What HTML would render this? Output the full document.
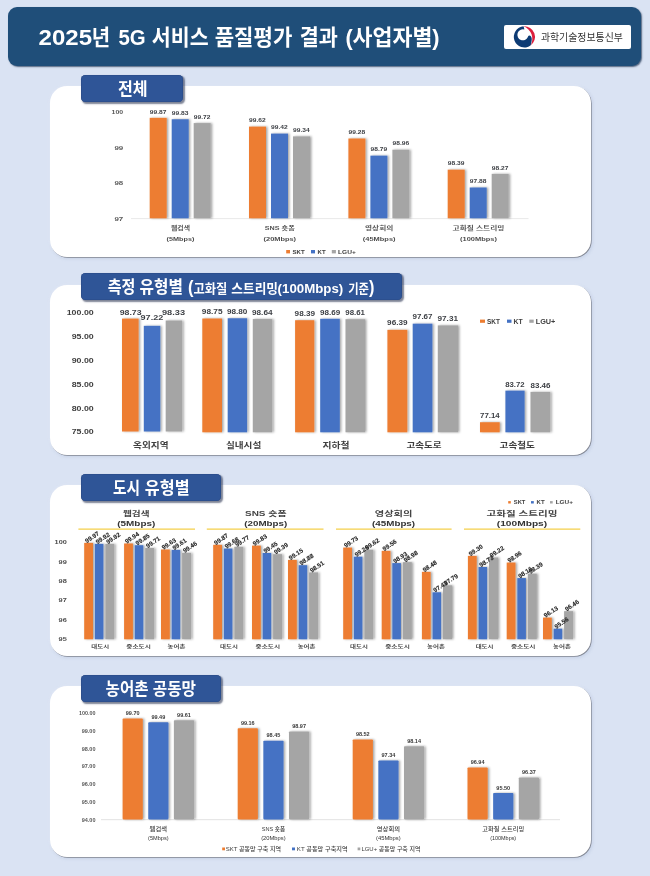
<!DOCTYPE html>
<html lang="ko"><head><meta charset="utf-8"><title>2025년 5G 서비스 품질평가 결과 (사업자별)</title>
<style>
html,body{margin:0;padding:0}
body{width:650px;height:876px;background:#dae3f3;position:relative;overflow:hidden;font-family:'Liberation Sans','Noto Sans CJK KR',sans-serif;}
.hdr{position:absolute;left:8.2px;top:7.2px;width:632.4px;height:59px;background:#1f4e79;border-radius:9px;box-shadow:1px 1px 1.5px rgba(40,60,90,.75)}
.logo{position:absolute;left:504px;top:24.8px;width:127.4px;height:24.1px;background:#fff;border-radius:2px}
.panel{position:absolute;left:49.6px;width:541.4px;background:#fff;border-radius:17px;box-shadow:0.7px 0.7px 0 rgba(120,124,135,.9),1.5px 1.5px 3px rgba(170,185,215,.4),0 0 3px rgba(235,240,250,.9)}
.tab{position:absolute;left:81.3px;height:26.5px;background:#2f5597;border-radius:4.5px;box-shadow:inset 0 0 0 0.6px #2a4a85,1.2px 1.2px 1.5px rgba(40,50,80,.6);color:#fff;font-weight:bold;white-space:nowrap}
svg{position:absolute;left:0;top:0}
svg text{font-family:'Liberation Sans','Noto Sans CJK KR',sans-serif}
</style></head><body>
<div class="hdr"></div>
<div class="logo"></div>

<div class="panel" style="top:86.4px;height:170.6px"></div>
<div class="panel" style="top:284.6px;height:170.4px"></div>
<div class="panel" style="top:485px;height:171.4px"></div>
<div class="panel" style="top:686px;height:171.4px"></div>

<div class="tab" style="top:75.3px;width:101.8px"></div>
<div class="tab" style="top:273.2px;width:320.4px"></div>
<div class="tab" style="top:474.4px;width:139.9px"></div>
<div class="tab" style="top:675.3px;width:139.9px"></div>

<svg width="650" height="876" viewBox="0 0 650 876">
<defs><filter id="bs" x="-5%" y="-5%" width="115%" height="110%"><feDropShadow dx="1.5" dy="0" stdDeviation="0.85" flood-color="#000" flood-opacity="0.36"/></filter></defs>
<line x1="131" x2="528.5" y1="218.60000000000002" y2="218.60000000000002" stroke="#e2e2e2" stroke-width="0.8"/>
<g filter="url(#bs)">
<rect x="149.70" y="117.85" width="17.00" height="100.45" fill="#ed7d31"/>
<rect x="171.70" y="119.25" width="17.00" height="99.05" fill="#4472c4"/>
<rect x="193.70" y="123.10" width="17.00" height="95.20" fill="#a5a5a5"/>
<rect x="249.00" y="126.60" width="17.00" height="91.70" fill="#ed7d31"/>
<rect x="271.00" y="133.60" width="17.00" height="84.70" fill="#4472c4"/>
<rect x="293.00" y="136.40" width="17.00" height="81.90" fill="#a5a5a5"/>
<rect x="348.40" y="138.50" width="17.00" height="79.80" fill="#ed7d31"/>
<rect x="370.40" y="155.65" width="17.00" height="62.65" fill="#4472c4"/>
<rect x="392.40" y="149.70" width="17.00" height="68.60" fill="#a5a5a5"/>
<rect x="447.70" y="169.65" width="17.00" height="48.65" fill="#ed7d31"/>
<rect x="469.70" y="187.50" width="17.00" height="30.80" fill="#4472c4"/>
<rect x="491.70" y="173.85" width="17.00" height="44.45" fill="#a5a5a5"/>
</g>
<text x="149.80" y="113.61" font-size="6.0" font-weight="bold" fill="#3c3f44" textLength="16.60" lengthAdjust="spacingAndGlyphs">99.87</text>
<text x="171.80" y="115.01" font-size="6.0" font-weight="bold" fill="#3c3f44" textLength="16.60" lengthAdjust="spacingAndGlyphs">99.83</text>
<text x="193.80" y="118.86" font-size="6.0" font-weight="bold" fill="#3c3f44" textLength="16.60" lengthAdjust="spacingAndGlyphs">99.72</text>
<text x="249.10" y="122.36" font-size="6.0" font-weight="bold" fill="#3c3f44" textLength="16.60" lengthAdjust="spacingAndGlyphs">99.62</text>
<text x="271.10" y="129.36" font-size="6.0" font-weight="bold" fill="#3c3f44" textLength="16.60" lengthAdjust="spacingAndGlyphs">99.42</text>
<text x="293.10" y="132.16" font-size="6.0" font-weight="bold" fill="#3c3f44" textLength="16.60" lengthAdjust="spacingAndGlyphs">99.34</text>
<text x="348.50" y="134.26" font-size="6.0" font-weight="bold" fill="#3c3f44" textLength="16.60" lengthAdjust="spacingAndGlyphs">99.28</text>
<text x="370.50" y="151.41" font-size="6.0" font-weight="bold" fill="#3c3f44" textLength="16.60" lengthAdjust="spacingAndGlyphs">98.79</text>
<text x="392.50" y="145.46" font-size="6.0" font-weight="bold" fill="#3c3f44" textLength="16.60" lengthAdjust="spacingAndGlyphs">98.96</text>
<text x="447.80" y="165.41" font-size="6.0" font-weight="bold" fill="#3c3f44" textLength="16.60" lengthAdjust="spacingAndGlyphs">98.39</text>
<text x="469.80" y="183.26" font-size="6.0" font-weight="bold" fill="#3c3f44" textLength="16.60" lengthAdjust="spacingAndGlyphs">97.88</text>
<text x="491.80" y="169.61" font-size="6.0" font-weight="bold" fill="#3c3f44" textLength="16.60" lengthAdjust="spacingAndGlyphs">98.27</text>
<text x="111.60" y="114.13" font-size="6.2" font-weight="bold" fill="#5a5a5a" textLength="11.60" lengthAdjust="spacingAndGlyphs">100</text>
<text x="114.40" y="149.68" font-size="6.2" font-weight="bold" fill="#5a5a5a" textLength="8.80" lengthAdjust="spacingAndGlyphs">99</text>
<text x="114.40" y="185.23" font-size="6.2" font-weight="bold" fill="#5a5a5a" textLength="8.80" lengthAdjust="spacingAndGlyphs">98</text>
<text x="114.40" y="220.78" font-size="6.2" font-weight="bold" fill="#5a5a5a" textLength="8.80" lengthAdjust="spacingAndGlyphs">97</text>
<text x="171.00" y="229.83" font-size="5.5" font-weight="bold" fill="#555" textLength="19.00" lengthAdjust="spacingAndGlyphs">웹검색</text>
<text x="166.60" y="240.52" font-size="5.9" font-weight="bold" fill="#4a4a4a" textLength="27.80" lengthAdjust="spacingAndGlyphs">(5Mbps)</text>
<text x="264.80" y="229.83" font-size="5.5" font-weight="bold" fill="#555" textLength="30.00" lengthAdjust="spacingAndGlyphs">SNS 숏폼</text>
<text x="263.55" y="240.52" font-size="5.9" font-weight="bold" fill="#4a4a4a" textLength="32.50" lengthAdjust="spacingAndGlyphs">(20Mbps)</text>
<text x="365.05" y="229.83" font-size="5.5" font-weight="bold" fill="#555" textLength="28.30" lengthAdjust="spacingAndGlyphs">영상회의</text>
<text x="362.85" y="240.52" font-size="5.9" font-weight="bold" fill="#4a4a4a" textLength="32.70" lengthAdjust="spacingAndGlyphs">(45Mbps)</text>
<text x="452.60" y="229.83" font-size="5.5" font-weight="bold" fill="#555" textLength="51.80" lengthAdjust="spacingAndGlyphs">고화질 스트리밍</text>
<text x="460.05" y="240.52" font-size="5.9" font-weight="bold" fill="#4a4a4a" textLength="36.90" lengthAdjust="spacingAndGlyphs">(100Mbps)</text>
<rect x="286.20" y="250.00" width="3.80" height="3.40" fill="#ed7d31"/>
<text x="292.50" y="253.93" font-size="6.2" font-weight="bold" fill="#404040" textLength="12.20" lengthAdjust="spacingAndGlyphs">SKT</text>
<rect x="311.00" y="250.00" width="4.00" height="3.40" fill="#4472c4"/>
<text x="317.60" y="253.93" font-size="6.2" font-weight="bold" fill="#404040" textLength="8.10" lengthAdjust="spacingAndGlyphs">KT</text>
<rect x="331.80" y="250.00" width="4.10" height="3.40" fill="#a5a5a5"/>
<text x="338.00" y="253.93" font-size="6.2" font-weight="bold" fill="#404040" textLength="17.80" lengthAdjust="spacingAndGlyphs">LGU+</text>
<g filter="url(#bs)">
<rect x="122.00" y="318.60" width="16.60" height="112.90" fill="#ed7d31"/>
<rect x="143.80" y="325.84" width="16.50" height="105.66" fill="#4472c4"/>
<rect x="165.70" y="320.52" width="16.50" height="110.98" fill="#a5a5a5"/>
<rect x="202.30" y="318.50" width="19.70" height="113.80" fill="#ed7d31"/>
<rect x="227.70" y="318.26" width="19.40" height="114.04" fill="#4472c4"/>
<rect x="252.80" y="319.03" width="19.50" height="113.27" fill="#a5a5a5"/>
<rect x="295.10" y="320.23" width="19.20" height="112.07" fill="#ed7d31"/>
<rect x="320.20" y="318.79" width="19.60" height="113.51" fill="#4472c4"/>
<rect x="345.50" y="319.17" width="19.50" height="113.13" fill="#a5a5a5"/>
<rect x="387.40" y="329.83" width="19.90" height="102.47" fill="#ed7d31"/>
<rect x="412.70" y="323.68" width="19.70" height="108.62" fill="#4472c4"/>
<rect x="437.80" y="325.41" width="20.20" height="106.89" fill="#a5a5a5"/>
<rect x="480.00" y="422.23" width="19.70" height="10.07" fill="#ed7d31"/>
<rect x="505.40" y="390.64" width="19.20" height="41.66" fill="#4472c4"/>
<rect x="530.50" y="391.89" width="19.80" height="40.41" fill="#a5a5a5"/>
</g>
<text x="119.70" y="314.83" font-size="7.3" font-weight="bold" fill="#3c3f44" textLength="21.90" lengthAdjust="spacingAndGlyphs">98.73</text>
<text x="140.60" y="320.43" font-size="7.3" font-weight="bold" fill="#3c3f44" textLength="22.60" lengthAdjust="spacingAndGlyphs">97.22</text>
<text x="162.00" y="314.83" font-size="7.3" font-weight="bold" fill="#3c3f44" textLength="23.00" lengthAdjust="spacingAndGlyphs">98.33</text>
<text x="201.80" y="314.03" font-size="7.3" font-weight="bold" fill="#3c3f44" textLength="20.70" lengthAdjust="spacingAndGlyphs">98.75</text>
<text x="227.00" y="314.03" font-size="7.3" font-weight="bold" fill="#3c3f44" textLength="20.40" lengthAdjust="spacingAndGlyphs">98.80</text>
<text x="252.00" y="314.73" font-size="7.3" font-weight="bold" fill="#3c3f44" textLength="20.50" lengthAdjust="spacingAndGlyphs">98.64</text>
<text x="294.60" y="315.73" font-size="7.3" font-weight="bold" fill="#3c3f44" textLength="20.40" lengthAdjust="spacingAndGlyphs">98.39</text>
<text x="320.00" y="314.53" font-size="7.3" font-weight="bold" fill="#3c3f44" textLength="20.20" lengthAdjust="spacingAndGlyphs">98.69</text>
<text x="345.30" y="315.23" font-size="7.3" font-weight="bold" fill="#3c3f44" textLength="19.70" lengthAdjust="spacingAndGlyphs">98.61</text>
<text x="387.10" y="325.03" font-size="7.3" font-weight="bold" fill="#3c3f44" textLength="20.40" lengthAdjust="spacingAndGlyphs">96.39</text>
<text x="412.50" y="319.43" font-size="7.3" font-weight="bold" fill="#3c3f44" textLength="20.00" lengthAdjust="spacingAndGlyphs">97.67</text>
<text x="437.50" y="320.93" font-size="7.3" font-weight="bold" fill="#3c3f44" textLength="20.50" lengthAdjust="spacingAndGlyphs">97.31</text>
<text x="480.00" y="418.33" font-size="7.3" font-weight="bold" fill="#3c3f44" textLength="19.70" lengthAdjust="spacingAndGlyphs">77.14</text>
<text x="505.20" y="386.63" font-size="7.3" font-weight="bold" fill="#3c3f44" textLength="19.40" lengthAdjust="spacingAndGlyphs">83.72</text>
<text x="530.50" y="388.43" font-size="7.3" font-weight="bold" fill="#3c3f44" textLength="20.00" lengthAdjust="spacingAndGlyphs">83.46</text>
<text x="66.70" y="314.75" font-size="6.8" font-weight="bold" fill="#404040" textLength="27.10" lengthAdjust="spacingAndGlyphs">100.00</text>
<text x="71.70" y="338.75" font-size="6.8" font-weight="bold" fill="#404040" textLength="22.10" lengthAdjust="spacingAndGlyphs">95.00</text>
<text x="71.70" y="362.75" font-size="6.8" font-weight="bold" fill="#404040" textLength="22.10" lengthAdjust="spacingAndGlyphs">90.00</text>
<text x="71.70" y="386.75" font-size="6.8" font-weight="bold" fill="#404040" textLength="22.10" lengthAdjust="spacingAndGlyphs">85.00</text>
<text x="71.70" y="410.75" font-size="6.8" font-weight="bold" fill="#404040" textLength="22.10" lengthAdjust="spacingAndGlyphs">80.00</text>
<text x="71.70" y="434.15" font-size="6.8" font-weight="bold" fill="#404040" textLength="22.10" lengthAdjust="spacingAndGlyphs">75.00</text>
<text x="133.10" y="448.47" font-size="8.2" font-weight="bold" fill="#404040" textLength="35.50" lengthAdjust="spacingAndGlyphs">옥외지역</text>
<text x="225.90" y="448.47" font-size="8.2" font-weight="bold" fill="#404040" textLength="35.40" lengthAdjust="spacingAndGlyphs">실내시설</text>
<text x="322.50" y="448.47" font-size="8.2" font-weight="bold" fill="#404040" textLength="27.10" lengthAdjust="spacingAndGlyphs">지하철</text>
<text x="406.40" y="448.47" font-size="8.2" font-weight="bold" fill="#404040" textLength="35.20" lengthAdjust="spacingAndGlyphs">고속도로</text>
<text x="499.60" y="448.47" font-size="8.2" font-weight="bold" fill="#404040" textLength="35.20" lengthAdjust="spacingAndGlyphs">고속철도</text>
<rect x="480.00" y="319.60" width="5.00" height="3.20" fill="#ed7d31"/>
<text x="487.00" y="323.50" font-size="6.4" font-weight="bold" fill="#404040" textLength="13.00" lengthAdjust="spacingAndGlyphs">SKT</text>
<rect x="507.00" y="319.60" width="4.50" height="3.20" fill="#4472c4"/>
<text x="513.50" y="323.50" font-size="6.4" font-weight="bold" fill="#404040" textLength="9.10" lengthAdjust="spacingAndGlyphs">KT</text>
<rect x="529.30" y="319.60" width="4.40" height="3.20" fill="#a5a5a5"/>
<text x="535.70" y="323.50" font-size="6.4" font-weight="bold" fill="#404040" textLength="19.70" lengthAdjust="spacingAndGlyphs">LGU+</text>
<line x1="78.4" x2="195" y1="529.2" y2="529.2" stroke="#f4cf4a" stroke-width="1.2"/>
<line x1="206.8" x2="323.5" y1="529.2" y2="529.2" stroke="#f4cf4a" stroke-width="1.2"/>
<line x1="336" x2="451.6" y1="529.2" y2="529.2" stroke="#f4cf4a" stroke-width="1.2"/>
<line x1="464" x2="580.3" y1="529.2" y2="529.2" stroke="#f4cf4a" stroke-width="1.2"/>
<g filter="url(#bs)">
<rect x="84.20" y="542.88" width="8.80" height="96.42" fill="#ed7d31"/>
<rect x="94.80" y="543.86" width="8.60" height="95.44" fill="#4472c4"/>
<rect x="105.30" y="543.86" width="9.00" height="95.44" fill="#a5a5a5"/>
<rect x="124.10" y="543.47" width="8.80" height="95.83" fill="#ed7d31"/>
<rect x="134.70" y="545.22" width="8.60" height="94.08" fill="#4472c4"/>
<rect x="145.20" y="547.94" width="9.00" height="91.36" fill="#a5a5a5"/>
<rect x="161.00" y="549.50" width="8.80" height="89.80" fill="#ed7d31"/>
<rect x="171.60" y="549.89" width="8.60" height="89.41" fill="#4472c4"/>
<rect x="182.10" y="552.80" width="9.00" height="86.50" fill="#a5a5a5"/>
<rect x="213.20" y="544.83" width="8.80" height="94.47" fill="#ed7d31"/>
<rect x="223.80" y="548.52" width="8.60" height="90.78" fill="#4472c4"/>
<rect x="234.30" y="546.77" width="9.00" height="92.53" fill="#a5a5a5"/>
<rect x="252.00" y="545.61" width="8.80" height="93.69" fill="#ed7d31"/>
<rect x="262.60" y="553.00" width="8.60" height="86.30" fill="#4472c4"/>
<rect x="273.10" y="554.16" width="9.00" height="85.14" fill="#a5a5a5"/>
<rect x="288.00" y="559.93" width="8.80" height="79.37" fill="#ed7d31"/>
<rect x="298.60" y="565.18" width="8.60" height="74.12" fill="#4472c4"/>
<rect x="309.10" y="572.38" width="9.00" height="66.92" fill="#a5a5a5"/>
<rect x="343.20" y="547.55" width="8.80" height="91.75" fill="#ed7d31"/>
<rect x="353.80" y="556.69" width="8.60" height="82.61" fill="#4472c4"/>
<rect x="364.30" y="549.69" width="9.00" height="89.61" fill="#a5a5a5"/>
<rect x="381.70" y="550.86" width="8.80" height="88.44" fill="#ed7d31"/>
<rect x="392.30" y="563.11" width="8.60" height="76.19" fill="#4472c4"/>
<rect x="402.80" y="562.14" width="9.00" height="77.16" fill="#a5a5a5"/>
<rect x="421.90" y="571.86" width="8.80" height="67.44" fill="#ed7d31"/>
<rect x="432.50" y="592.29" width="8.60" height="47.01" fill="#4472c4"/>
<rect x="443.00" y="585.28" width="9.00" height="54.02" fill="#a5a5a5"/>
<rect x="467.90" y="555.91" width="8.80" height="83.38" fill="#ed7d31"/>
<rect x="478.50" y="567.00" width="8.60" height="72.30" fill="#4472c4"/>
<rect x="489.00" y="557.47" width="9.00" height="81.83" fill="#a5a5a5"/>
<rect x="506.70" y="562.53" width="8.80" height="76.77" fill="#ed7d31"/>
<rect x="517.30" y="578.09" width="8.60" height="61.21" fill="#4472c4"/>
<rect x="527.80" y="573.61" width="9.00" height="65.69" fill="#a5a5a5"/>
<rect x="543.00" y="617.57" width="8.80" height="21.73" fill="#ed7d31"/>
<rect x="553.60" y="628.66" width="8.60" height="10.64" fill="#4472c4"/>
<rect x="564.10" y="611.15" width="9.00" height="28.15" fill="#a5a5a5"/>
</g>
<text transform="translate(86.80,543.18) rotate(-33.5)" font-size="6.2" font-weight="bold" fill="#262626" stroke="#262626" stroke-width="0.12">99.97</text>
<text transform="translate(97.40,544.16) rotate(-33.5)" font-size="6.2" font-weight="bold" fill="#262626" stroke="#262626" stroke-width="0.12">99.92</text>
<text transform="translate(107.90,544.16) rotate(-33.5)" font-size="6.2" font-weight="bold" fill="#262626" stroke="#262626" stroke-width="0.12">99.92</text>
<text transform="translate(126.70,543.77) rotate(-33.5)" font-size="6.2" font-weight="bold" fill="#262626" stroke="#262626" stroke-width="0.12">99.94</text>
<text transform="translate(137.30,545.52) rotate(-33.5)" font-size="6.2" font-weight="bold" fill="#262626" stroke="#262626" stroke-width="0.12">99.85</text>
<text transform="translate(147.80,548.24) rotate(-33.5)" font-size="6.2" font-weight="bold" fill="#262626" stroke="#262626" stroke-width="0.12">99.71</text>
<text transform="translate(163.60,549.80) rotate(-33.5)" font-size="6.2" font-weight="bold" fill="#262626" stroke="#262626" stroke-width="0.12">99.63</text>
<text transform="translate(174.20,550.19) rotate(-33.5)" font-size="6.2" font-weight="bold" fill="#262626" stroke="#262626" stroke-width="0.12">99.61</text>
<text transform="translate(184.70,553.10) rotate(-33.5)" font-size="6.2" font-weight="bold" fill="#262626" stroke="#262626" stroke-width="0.12">99.46</text>
<text transform="translate(215.80,545.13) rotate(-33.5)" font-size="6.2" font-weight="bold" fill="#262626" stroke="#262626" stroke-width="0.12">99.87</text>
<text transform="translate(226.40,548.82) rotate(-33.5)" font-size="6.2" font-weight="bold" fill="#262626" stroke="#262626" stroke-width="0.12">99.68</text>
<text transform="translate(236.90,547.07) rotate(-33.5)" font-size="6.2" font-weight="bold" fill="#262626" stroke="#262626" stroke-width="0.12">99.77</text>
<text transform="translate(254.60,545.91) rotate(-33.5)" font-size="6.2" font-weight="bold" fill="#262626" stroke="#262626" stroke-width="0.12">99.83</text>
<text transform="translate(265.20,553.30) rotate(-33.5)" font-size="6.2" font-weight="bold" fill="#262626" stroke="#262626" stroke-width="0.12">99.45</text>
<text transform="translate(275.70,554.46) rotate(-33.5)" font-size="6.2" font-weight="bold" fill="#262626" stroke="#262626" stroke-width="0.12">99.39</text>
<text transform="translate(290.60,560.23) rotate(-33.5)" font-size="6.2" font-weight="bold" fill="#262626" stroke="#262626" stroke-width="0.12">99.15</text>
<text transform="translate(301.20,565.48) rotate(-33.5)" font-size="6.2" font-weight="bold" fill="#262626" stroke="#262626" stroke-width="0.12">98.88</text>
<text transform="translate(311.70,572.68) rotate(-33.5)" font-size="6.2" font-weight="bold" fill="#262626" stroke="#262626" stroke-width="0.12">98.51</text>
<text transform="translate(345.80,547.85) rotate(-33.5)" font-size="6.2" font-weight="bold" fill="#262626" stroke="#262626" stroke-width="0.12">99.73</text>
<text transform="translate(356.40,556.99) rotate(-33.5)" font-size="6.2" font-weight="bold" fill="#262626" stroke="#262626" stroke-width="0.12">99.26</text>
<text transform="translate(366.90,549.99) rotate(-33.5)" font-size="6.2" font-weight="bold" fill="#262626" stroke="#262626" stroke-width="0.12">99.62</text>
<text transform="translate(384.30,551.16) rotate(-33.5)" font-size="6.2" font-weight="bold" fill="#262626" stroke="#262626" stroke-width="0.12">99.56</text>
<text transform="translate(394.90,563.41) rotate(-33.5)" font-size="6.2" font-weight="bold" fill="#262626" stroke="#262626" stroke-width="0.12">98.93</text>
<text transform="translate(405.40,562.44) rotate(-33.5)" font-size="6.2" font-weight="bold" fill="#262626" stroke="#262626" stroke-width="0.12">98.98</text>
<text transform="translate(424.50,572.16) rotate(-33.5)" font-size="6.2" font-weight="bold" fill="#262626" stroke="#262626" stroke-width="0.12">98.48</text>
<text transform="translate(435.10,592.59) rotate(-33.5)" font-size="6.2" font-weight="bold" fill="#262626" stroke="#262626" stroke-width="0.12">97.43</text>
<text transform="translate(445.60,585.58) rotate(-33.5)" font-size="6.2" font-weight="bold" fill="#262626" stroke="#262626" stroke-width="0.12">97.79</text>
<text transform="translate(470.50,556.21) rotate(-33.5)" font-size="6.2" font-weight="bold" fill="#262626" stroke="#262626" stroke-width="0.12">99.30</text>
<text transform="translate(481.10,567.30) rotate(-33.5)" font-size="6.2" font-weight="bold" fill="#262626" stroke="#262626" stroke-width="0.12">98.73</text>
<text transform="translate(491.60,557.77) rotate(-33.5)" font-size="6.2" font-weight="bold" fill="#262626" stroke="#262626" stroke-width="0.12">99.22</text>
<text transform="translate(509.30,562.83) rotate(-33.5)" font-size="6.2" font-weight="bold" fill="#262626" stroke="#262626" stroke-width="0.12">98.96</text>
<text transform="translate(519.90,578.39) rotate(-33.5)" font-size="6.2" font-weight="bold" fill="#262626" stroke="#262626" stroke-width="0.12">98.16</text>
<text transform="translate(530.40,573.91) rotate(-33.5)" font-size="6.2" font-weight="bold" fill="#262626" stroke="#262626" stroke-width="0.12">98.39</text>
<text transform="translate(545.60,617.87) rotate(-33.5)" font-size="6.2" font-weight="bold" fill="#262626" stroke="#262626" stroke-width="0.12">96.13</text>
<text transform="translate(556.20,628.96) rotate(-33.5)" font-size="6.2" font-weight="bold" fill="#262626" stroke="#262626" stroke-width="0.12">95.56</text>
<text transform="translate(566.70,611.45) rotate(-33.5)" font-size="6.2" font-weight="bold" fill="#262626" stroke="#262626" stroke-width="0.12">96.46</text>
<text x="54.60" y="544.35" font-size="5.7" font-weight="bold" fill="#4a4a4a" textLength="12.20" lengthAdjust="spacingAndGlyphs">100</text>
<text x="58.60" y="563.67" font-size="5.7" font-weight="bold" fill="#4a4a4a" textLength="8.20" lengthAdjust="spacingAndGlyphs">99</text>
<text x="58.60" y="582.99" font-size="5.7" font-weight="bold" fill="#4a4a4a" textLength="8.20" lengthAdjust="spacingAndGlyphs">98</text>
<text x="58.60" y="602.31" font-size="5.7" font-weight="bold" fill="#4a4a4a" textLength="8.20" lengthAdjust="spacingAndGlyphs">97</text>
<text x="58.60" y="621.63" font-size="5.7" font-weight="bold" fill="#4a4a4a" textLength="8.20" lengthAdjust="spacingAndGlyphs">96</text>
<text x="58.60" y="640.95" font-size="5.7" font-weight="bold" fill="#4a4a4a" textLength="8.20" lengthAdjust="spacingAndGlyphs">95</text>
<text x="123.00" y="516.08" font-size="6.8" font-weight="bold" fill="#444" textLength="26.60" lengthAdjust="spacingAndGlyphs">웹검색</text>
<text x="117.30" y="525.54" font-size="7.6" font-weight="bold" fill="#333" textLength="38.00" lengthAdjust="spacingAndGlyphs">(5Mbps)</text>
<text x="245.05" y="516.08" font-size="6.8" font-weight="bold" fill="#444" textLength="41.50" lengthAdjust="spacingAndGlyphs">SNS 숏폼</text>
<text x="244.30" y="525.54" font-size="7.6" font-weight="bold" fill="#333" textLength="43.00" lengthAdjust="spacingAndGlyphs">(20Mbps)</text>
<text x="374.75" y="516.08" font-size="6.8" font-weight="bold" fill="#444" textLength="37.70" lengthAdjust="spacingAndGlyphs">영상회의</text>
<text x="372.10" y="525.54" font-size="7.6" font-weight="bold" fill="#333" textLength="43.00" lengthAdjust="spacingAndGlyphs">(45Mbps)</text>
<text x="486.50" y="516.08" font-size="6.8" font-weight="bold" fill="#444" textLength="71.00" lengthAdjust="spacingAndGlyphs">고화질 스트리밍</text>
<text x="496.80" y="525.54" font-size="7.6" font-weight="bold" fill="#333" textLength="50.40" lengthAdjust="spacingAndGlyphs">(100Mbps)</text>
<text x="91.30" y="647.72" font-size="4.9" font-weight="bold" fill="#4a4a4a" textLength="17.80" lengthAdjust="spacingAndGlyphs">대도시</text>
<text x="126.30" y="647.72" font-size="4.9" font-weight="bold" fill="#4a4a4a" textLength="24.60" lengthAdjust="spacingAndGlyphs">중소도시</text>
<text x="167.60" y="647.72" font-size="4.9" font-weight="bold" fill="#4a4a4a" textLength="17.80" lengthAdjust="spacingAndGlyphs">농어촌</text>
<text x="220.10" y="647.72" font-size="4.9" font-weight="bold" fill="#4a4a4a" textLength="17.80" lengthAdjust="spacingAndGlyphs">대도시</text>
<text x="255.50" y="647.72" font-size="4.9" font-weight="bold" fill="#4a4a4a" textLength="24.60" lengthAdjust="spacingAndGlyphs">중소도시</text>
<text x="297.70" y="647.72" font-size="4.9" font-weight="bold" fill="#4a4a4a" textLength="17.80" lengthAdjust="spacingAndGlyphs">농어촌</text>
<text x="350.10" y="647.72" font-size="4.9" font-weight="bold" fill="#4a4a4a" textLength="17.80" lengthAdjust="spacingAndGlyphs">대도시</text>
<text x="385.20" y="647.72" font-size="4.9" font-weight="bold" fill="#4a4a4a" textLength="24.60" lengthAdjust="spacingAndGlyphs">중소도시</text>
<text x="427.10" y="647.72" font-size="4.9" font-weight="bold" fill="#4a4a4a" textLength="17.80" lengthAdjust="spacingAndGlyphs">농어촌</text>
<text x="475.70" y="647.72" font-size="4.9" font-weight="bold" fill="#4a4a4a" textLength="17.80" lengthAdjust="spacingAndGlyphs">대도시</text>
<text x="510.90" y="647.72" font-size="4.9" font-weight="bold" fill="#4a4a4a" textLength="24.60" lengthAdjust="spacingAndGlyphs">중소도시</text>
<text x="553.10" y="647.72" font-size="4.9" font-weight="bold" fill="#4a4a4a" textLength="17.80" lengthAdjust="spacingAndGlyphs">농어촌</text>
<rect x="508.20" y="501.10" width="2.60" height="2.40" fill="#ed7d31"/>
<text x="513.80" y="504.24" font-size="5.4" font-weight="bold" fill="#404040" textLength="11.60" lengthAdjust="spacingAndGlyphs">SKT</text>
<rect x="531.00" y="501.10" width="2.80" height="2.40" fill="#4472c4"/>
<text x="536.50" y="504.24" font-size="5.4" font-weight="bold" fill="#404040" textLength="8.10" lengthAdjust="spacingAndGlyphs">KT</text>
<rect x="550.00" y="501.10" width="2.70" height="2.40" fill="#a5a5a5"/>
<text x="555.70" y="504.24" font-size="5.4" font-weight="bold" fill="#404040" textLength="17.30" lengthAdjust="spacingAndGlyphs">LGU+</text>
<line x1="101" x2="560" y1="819.6999999999999" y2="819.6999999999999" stroke="#d9d9d9" stroke-width="0.8"/>
<g filter="url(#bs)">
<rect x="122.60" y="718.61" width="20.2" height="100.79" fill="#ed7d31" rx="0.8"/>
<rect x="148.25" y="722.33" width="20.2" height="97.07" fill="#4472c4" rx="0.8"/>
<rect x="173.90" y="720.20" width="20.2" height="99.20" fill="#a5a5a5" rx="0.8"/>
<rect x="237.70" y="728.17" width="20.2" height="91.23" fill="#ed7d31" rx="0.8"/>
<rect x="263.35" y="740.73" width="20.2" height="78.67" fill="#4472c4" rx="0.8"/>
<rect x="289.00" y="731.53" width="20.2" height="87.87" fill="#a5a5a5" rx="0.8"/>
<rect x="352.70" y="739.50" width="20.2" height="79.90" fill="#ed7d31" rx="0.8"/>
<rect x="378.35" y="760.38" width="20.2" height="59.02" fill="#4472c4" rx="0.8"/>
<rect x="404.00" y="746.22" width="20.2" height="73.18" fill="#a5a5a5" rx="0.8"/>
<rect x="467.50" y="767.46" width="20.2" height="51.94" fill="#ed7d31" rx="0.8"/>
<rect x="493.15" y="792.95" width="20.2" height="26.45" fill="#4472c4" rx="0.8"/>
<rect x="518.80" y="777.55" width="20.2" height="41.85" fill="#a5a5a5" rx="0.8"/>
</g>
<text x="125.80" y="715.27" font-size="6.0" font-weight="bold" fill="#383838" textLength="13.80" lengthAdjust="spacingAndGlyphs">99.70</text>
<text x="151.45" y="718.99" font-size="6.0" font-weight="bold" fill="#383838" textLength="13.80" lengthAdjust="spacingAndGlyphs">99.49</text>
<text x="177.10" y="716.86" font-size="6.0" font-weight="bold" fill="#383838" textLength="13.80" lengthAdjust="spacingAndGlyphs">99.61</text>
<text x="240.90" y="724.83" font-size="6.0" font-weight="bold" fill="#383838" textLength="13.80" lengthAdjust="spacingAndGlyphs">99.16</text>
<text x="266.55" y="737.39" font-size="6.0" font-weight="bold" fill="#383838" textLength="13.80" lengthAdjust="spacingAndGlyphs">98.45</text>
<text x="292.20" y="728.19" font-size="6.0" font-weight="bold" fill="#383838" textLength="13.80" lengthAdjust="spacingAndGlyphs">98.97</text>
<text x="355.90" y="736.16" font-size="6.0" font-weight="bold" fill="#383838" textLength="13.80" lengthAdjust="spacingAndGlyphs">98.52</text>
<text x="381.55" y="757.04" font-size="6.0" font-weight="bold" fill="#383838" textLength="13.80" lengthAdjust="spacingAndGlyphs">97.34</text>
<text x="407.20" y="742.88" font-size="6.0" font-weight="bold" fill="#383838" textLength="13.80" lengthAdjust="spacingAndGlyphs">98.14</text>
<text x="470.70" y="764.12" font-size="6.0" font-weight="bold" fill="#383838" textLength="13.80" lengthAdjust="spacingAndGlyphs">96.94</text>
<text x="496.35" y="789.61" font-size="6.0" font-weight="bold" fill="#383838" textLength="13.80" lengthAdjust="spacingAndGlyphs">95.50</text>
<text x="522.00" y="774.21" font-size="6.0" font-weight="bold" fill="#383838" textLength="13.80" lengthAdjust="spacingAndGlyphs">96.37</text>
<text x="79.00" y="714.92" font-size="5.6" font-weight="bold" fill="#595959" textLength="16.50" lengthAdjust="spacingAndGlyphs">100.00</text>
<text x="81.70" y="732.72" font-size="5.6" font-weight="bold" fill="#595959" textLength="13.80" lengthAdjust="spacingAndGlyphs">99.00</text>
<text x="81.70" y="750.52" font-size="5.6" font-weight="bold" fill="#595959" textLength="13.80" lengthAdjust="spacingAndGlyphs">98.00</text>
<text x="81.70" y="768.32" font-size="5.6" font-weight="bold" fill="#595959" textLength="13.80" lengthAdjust="spacingAndGlyphs">97.00</text>
<text x="81.70" y="786.12" font-size="5.6" font-weight="bold" fill="#595959" textLength="13.80" lengthAdjust="spacingAndGlyphs">96.00</text>
<text x="81.70" y="803.92" font-size="5.6" font-weight="bold" fill="#595959" textLength="13.80" lengthAdjust="spacingAndGlyphs">95.00</text>
<text x="81.70" y="821.72" font-size="5.6" font-weight="bold" fill="#595959" textLength="13.80" lengthAdjust="spacingAndGlyphs">94.00</text>
<text x="149.60" y="830.84" font-size="5.4" font-weight="500" fill="#404040" textLength="17.40" lengthAdjust="spacingAndGlyphs">웹검색</text>
<text x="148.05" y="840.07" font-size="5.2" font-weight="normal" fill="#333" textLength="20.50" lengthAdjust="spacingAndGlyphs">(5Mbps)</text>
<text x="261.75" y="830.84" font-size="5.4" font-weight="500" fill="#404040" textLength="23.30" lengthAdjust="spacingAndGlyphs">SNS 숏폼</text>
<text x="261.20" y="840.07" font-size="5.2" font-weight="normal" fill="#333" textLength="24.40" lengthAdjust="spacingAndGlyphs">(20Mbps)</text>
<text x="376.75" y="830.84" font-size="5.4" font-weight="500" fill="#404040" textLength="23.30" lengthAdjust="spacingAndGlyphs">영상회의</text>
<text x="376.05" y="840.07" font-size="5.2" font-weight="normal" fill="#333" textLength="24.70" lengthAdjust="spacingAndGlyphs">(45Mbps)</text>
<text x="482.20" y="830.84" font-size="5.4" font-weight="500" fill="#404040" textLength="42.00" lengthAdjust="spacingAndGlyphs">고화질 스트리밍</text>
<text x="490.20" y="840.07" font-size="5.2" font-weight="normal" fill="#333" textLength="26.00" lengthAdjust="spacingAndGlyphs">(100Mbps)</text>
<rect x="222.20" y="847.50" width="2.80" height="2.80" fill="#ed7d31"/>
<text x="225.70" y="850.80" font-size="5.6" font-weight="500" fill="#404040" textLength="55.30" lengthAdjust="spacingAndGlyphs">SKT 공동망 구축 지역</text>
<rect x="292.00" y="847.50" width="3.00" height="2.80" fill="#4472c4"/>
<text x="296.80" y="850.80" font-size="5.6" font-weight="500" fill="#404040" textLength="50.90" lengthAdjust="spacingAndGlyphs">KT 공동망 구축지역</text>
<rect x="357.60" y="847.50" width="2.70" height="2.80" fill="#a5a5a5"/>
<text x="361.40" y="850.80" font-size="5.6" font-weight="500" fill="#404040" textLength="59.10" lengthAdjust="spacingAndGlyphs">LGU+ 공동망 구축 지역</text>
<text x="38.60" y="44.94" font-size="22.6" font-weight="bold" fill="#fff" textLength="53.40" lengthAdjust="spacingAndGlyphs">2025</text>
<text x="91.80" y="44.74" font-size="22" font-weight="bold" fill="#fff" textLength="18.40" lengthAdjust="spacingAndGlyphs">년</text>
<text x="118.40" y="44.94" font-size="22.6" font-weight="bold" fill="#fff" textLength="27.20" lengthAdjust="spacingAndGlyphs">5G</text>
<text x="151.80" y="44.74" font-size="22" font-weight="bold" fill="#fff" textLength="56.80" lengthAdjust="spacingAndGlyphs">서비스</text>
<text x="214.70" y="44.74" font-size="22" font-weight="bold" fill="#fff" textLength="77.60" lengthAdjust="spacingAndGlyphs">품질평가</text>
<text x="299.70" y="44.74" font-size="22" font-weight="bold" fill="#fff" textLength="38.10" lengthAdjust="spacingAndGlyphs">결과</text>
<text x="345.40" y="44.74" font-size="22" font-weight="bold" fill="#fff" textLength="94.20" lengthAdjust="spacingAndGlyphs">(사업자별)</text>
<g transform="translate(524.4,36.9)"><path d="M-0.92,-10.56 A10.6,10.6 0 0 1 6.08,8.68 A13.22,13.22 0 0 0 -0.92,-10.56 Z" fill="#dc1e3c"/><path d="M-0.92,-10.56 A10.6,10.6 0 1 0 6.08,8.68 C6.7,7.3 7.3,4.5 7.4,2.0 C7.4,0.2 6.2,-1.6 4.8,-1.5 C4.0,-1.45 3.7,-0.6 3.48,0.22 A5.5,5.5 0 1 1 -0.08,-7.41 C-0.2,-8.5 -0.5,-9.8 -0.92,-10.56 Z" fill="#0d3b74"/></g>
<text x="540.90" y="40.78" font-size="10.5" font-weight="400" fill="#333" textLength="82.00" lengthAdjust="spacingAndGlyphs">과학기술정보통신부</text>
<text x="118.00" y="95.01" font-size="17.6" font-weight="bold" fill="#fff" textLength="29.70" lengthAdjust="spacingAndGlyphs">전체</text>
<text x="107.70" y="293.21" font-size="17.6" font-weight="bold" fill="#fff" textLength="27.70" lengthAdjust="spacingAndGlyphs">측정</text>
<text x="139.60" y="293.21" font-size="17.6" font-weight="bold" fill="#fff" textLength="43.40" lengthAdjust="spacingAndGlyphs">유형별</text>
<text x="188.00" y="293.21" font-size="17.6" font-weight="bold" fill="#fff" textLength="5.50" lengthAdjust="spacingAndGlyphs">(</text>
<text x="193.40" y="292.71" font-size="13" font-weight="bold" fill="#fff" textLength="33.90" lengthAdjust="spacingAndGlyphs">고화질</text>
<text x="231.30" y="292.71" font-size="13" font-weight="bold" fill="#fff" textLength="46.70" lengthAdjust="spacingAndGlyphs">스트리밍</text>
<text x="277.60" y="292.71" font-size="13" font-weight="bold" fill="#fff" textLength="65.60" lengthAdjust="spacingAndGlyphs">(100Mbps)</text>
<text x="348.20" y="292.71" font-size="13" font-weight="bold" fill="#fff" textLength="20.80" lengthAdjust="spacingAndGlyphs">기준</text>
<text x="369.00" y="293.21" font-size="17.6" font-weight="bold" fill="#fff" textLength="5.40" lengthAdjust="spacingAndGlyphs">)</text>
<text x="112.90" y="494.21" font-size="17.6" font-weight="bold" fill="#fff" textLength="27.10" lengthAdjust="spacingAndGlyphs">도시</text>
<text x="144.80" y="494.21" font-size="17.6" font-weight="bold" fill="#fff" textLength="44.80" lengthAdjust="spacingAndGlyphs">유형별</text>
<text x="105.60" y="695.01" font-size="17.6" font-weight="bold" fill="#fff" textLength="42.90" lengthAdjust="spacingAndGlyphs">농어촌</text>
<text x="152.70" y="695.01" font-size="17.6" font-weight="bold" fill="#fff" textLength="43.40" lengthAdjust="spacingAndGlyphs">공동망</text>
</svg>
</body></html>
